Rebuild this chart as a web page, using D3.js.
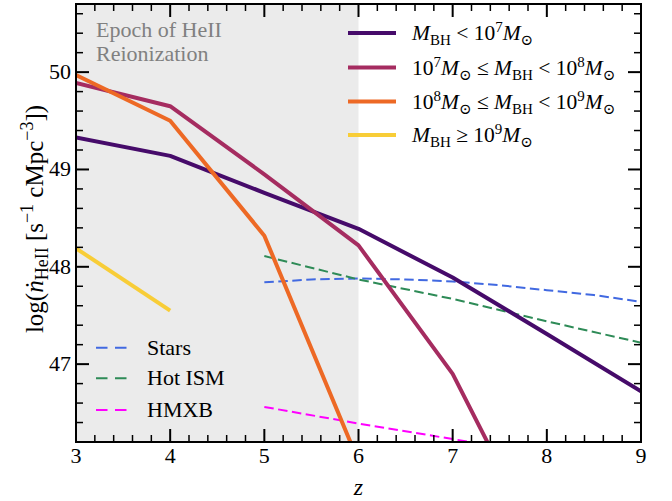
<!DOCTYPE html>
<html lang="en">
<head>
<meta charset="UTF-8">
<title>HeII ionizing photon rate</title>
<style>
    body { margin: 0; background: #fff; }
    svg text { font-family: "Liberation Serif", "DejaVu Serif", serif; }
</style>
</head>
<body>
<div id="chart"></div>
<script src="https://cdn.jsdelivr.net/npm/d3@7"></script>
<script>

    // redshift grid for the BH mass bins
    var zBins = [3, 4, 5, 6, 7, 8];
    var bhLow = [49.33, 49.14, 48.76, 48.39, 47.89, 47.31];     // M_BH < 1e7
    var bhMid = [49.89, 49.65, 48.95, 48.22, 46.90, 45.0];      // 1e7 - 1e8
    var bhHigh = [49.97, 49.50, 48.32, 46.0];                   // 1e8 - 1e9
    var bhTop = [48.19, 47.55];                                 // >= 1e9
    var bhLowTail = {z: 9, v: 46.72};

    // other sources
    var zStars = [5, 5.5, 6, 6.5, 7, 7.5, 8, 8.5, 9];
    var stars = [47.84, 47.87, 47.88, 47.87, 47.85, 47.81, 47.76, 47.71, 47.64];
    var zIsm = [5, 6, 7, 8, 9];
    var hotIsm = [48.11, 47.87, 47.67, 47.44, 47.22];
    var hmxb = [46.56, 46.39, 46.23, 46.07, 45.90];

    var xTicks = [3, 4, 5, 6, 7, 8, 9];
    var yTicks = [47, 48, 49, 50];

    var W = 672, H = 501;
    var pL = 76, pR = 641, pT = 4, pB = 442;

    var x = d3.scaleLinear().domain([3, 9]).range([pL, pR]);
    var y = d3.scaleLinear().domain([46.2, 50.7]).range([pB, pT]);

    var svg = d3.select("#chart").append("svg")
        .attr("width", W)
        .attr("height", H);

    svg.append("defs").append("clipPath").attr("id", "clip")
        .append("rect")
        .attr("x", pL).attr("y", pT)
        .attr("width", pR - pL).attr("height", pB - pT);

    // epoch of HeII reionization shading
    svg.append("rect")
        .attr("x", x(3)).attr("y", pT)
        .attr("width", x(6) - x(3)).attr("height", pB - pT)
        .attr("fill", "#ebebeb");

    svg.append("text").attr("x", 96).attr("y", 37)
        .attr("font-size", 22).attr("fill", "#808080").text("Epoch of HeII");
    svg.append("text").attr("x", 96).attr("y", 61)
        .attr("font-size", 22).attr("fill", "#808080").text("Reionization");

    var line = d3.line().x(function (d) { return x(d[0]); }).y(function (d) { return y(d[1]); });
    var plot = svg.append("g").attr("clip-path", "url(#clip)");

    function pairs(zs, vs) {
        return vs.map(function (v, i) { return [zs[i], v]; });
    }

    var dashed = [
        {name: "Stars", color: "#4169e1", pts: pairs(zStars, stars)},
        {name: "Hot ISM", color: "#2e8b57", pts: pairs(zIsm, hotIsm)},
        {name: "HMXB", color: "#ff00ff", pts: pairs(zIsm, hmxb)}
    ];

    var solid = [
        {color: "#460b6a", pts: pairs(zBins, bhLow).concat([[bhLowTail.z, bhLowTail.v]])},
        {color: "#a52c60", pts: pairs(zBins, bhMid)},
        {color: "#ed6925", pts: pairs(zBins, bhHigh)},
        {color: "#f8cd37", pts: pairs(zBins, bhTop)}
    ];

    dashed.forEach(function (s) {
        plot.append("path").attr("d", line(s.pts))
            .attr("fill", "none").attr("stroke", s.color)
            .attr("stroke-width", 2).attr("stroke-dasharray", "9.5,4.5");
    });

    solid.forEach(function (s) {
        plot.append("path").attr("d", line(s.pts))
            .attr("fill", "none").attr("stroke", s.color)
            .attr("stroke-width", 4).attr("stroke-linejoin", "round");
    });

    // axes, ticks inward on all sides
    function minor(lo, hi, step) {
        var out = [];
        for (var v = lo; v <= hi + 1e-9; v += step) out.push(+v.toFixed(2));
        return out;
    }
    var xMinor = minor(3, 9, 0.2);
    var yMinor = minor(46.2, 50.6, 0.2);

    var ax = svg.append("g").attr("stroke", "#000");
    xMinor.forEach(function (v) {
        var major = xTicks.indexOf(Math.round(v * 100) / 100) >= 0;
        var len = major ? 13 : 7;
        ax.append("line").attr("x1", x(v)).attr("x2", x(v)).attr("y1", pB).attr("y2", pB - len)
            .attr("stroke-width", major ? 2 : 1.5);
        ax.append("line").attr("x1", x(v)).attr("x2", x(v)).attr("y1", pT).attr("y2", pT + len)
            .attr("stroke-width", major ? 2 : 1.5);
    });
    yMinor.forEach(function (v) {
        var major = yTicks.indexOf(Math.round(v * 100) / 100) >= 0;
        var len = major ? 13 : 7;
        ax.append("line").attr("y1", y(v)).attr("y2", y(v)).attr("x1", pL).attr("x2", pL + len)
            .attr("stroke-width", major ? 2 : 1.5);
        ax.append("line").attr("y1", y(v)).attr("y2", y(v)).attr("x1", pR).attr("x2", pR - len)
            .attr("stroke-width", major ? 2 : 1.5);
    });
    svg.append("rect")
        .attr("x", pL).attr("y", pT)
        .attr("width", pR - pL).attr("height", pB - pT)
        .attr("fill", "none").attr("stroke", "#000").attr("stroke-width", 2);

    xTicks.forEach(function (v) {
        svg.append("text").attr("x", x(v)).attr("y", 463)
            .attr("text-anchor", "middle").attr("font-size", 22).text(v);
    });
    yTicks.forEach(function (v) {
        svg.append("text").attr("x", pL - 5).attr("y", y(v) + 7)
            .attr("text-anchor", "end").attr("font-size", 22).text(v);
    });

    svg.append("text").attr("x", x(6)).attr("y", 495)
        .attr("text-anchor", "middle").attr("font-size", 24)
        .attr("font-style", "italic").text("z");

    var yl = svg.append("text")
        .attr("transform", "translate(43,219) rotate(-90)")
        .attr("text-anchor", "middle").attr("font-size", 25);
    yl.append("tspan").text("log(");
    yl.append("tspan").attr("font-style", "italic").text("n\u0307");
    yl.append("tspan").attr("font-size", 18).attr("dy", 5).text("HeII");
    yl.append("tspan").attr("dy", -5).text(" [s");
    yl.append("tspan").attr("font-size", 18).attr("dy", -10).text("\u22121");
    yl.append("tspan").attr("dy", 10).text(" cMpc");
    yl.append("tspan").attr("font-size", 18).attr("dy", -10).text("\u22123");
    yl.append("tspan").attr("dy", 10).text("])");

    // BH mass legend
    var legY = [33, 67.5, 101.5, 135];
    var legParts = [
        [["M", "i"], ["BH", "sub"], [" < 10", ""], ["7", "sup"], ["M", "i"], ["\u2299", "sub"]],
        [["10", ""], ["7", "sup"], ["M", "i"], ["\u2299", "sub"], [" \u2264 ", ""], ["M", "i"], ["BH", "sub"], [" < 10", ""], ["8", "sup"], ["M", "i"], ["\u2299", "sub"]],
        [["10", ""], ["8", "sup"], ["M", "i"], ["\u2299", "sub"], [" \u2264 ", ""], ["M", "i"], ["BH", "sub"], [" < 10", ""], ["9", "sup"], ["M", "i"], ["\u2299", "sub"]],
        [["M", "i"], ["BH", "sub"], [" \u2265 10", ""], ["9", "sup"], ["M", "i"], ["\u2299", "sub"]]
    ];
    legParts.forEach(function (parts, i) {
        svg.append("line").attr("x1", 348).attr("x2", 396).attr("y1", legY[i]).attr("y2", legY[i])
            .attr("stroke", solid[i].color).attr("stroke-width", 4);
        var t = svg.append("text").attr("x", 412).attr("y", legY[i] + 7).attr("font-size", 21.5);
        var shift = 0;
        parts.forEach(function (p) {
            var target = p[1] === "sub" ? 5 : p[1] === "sup" ? -8 : 0;
            var ts = t.append("tspan").attr("dy", target - shift).text(p[0]);
            shift = target;
            if (p[1] === "i") ts.attr("font-style", "italic");
            if (p[1] === "sub" || p[1] === "sup") ts.attr("font-size", 15);
        });
    });

    // source legend
    var leg2Y = [347.7, 378.3, 410];
    dashed.forEach(function (s, i) {
        svg.append("line").attr("x1", 96).attr("x2", 127).attr("y1", leg2Y[i]).attr("y2", leg2Y[i])
            .attr("stroke", s.color).attr("stroke-width", 2).attr("stroke-dasharray", "11.5,7.5");
        svg.append("text").attr("x", 147).attr("y", leg2Y[i] + 7)
            .attr("font-size", 22).text(s.name);
    });

</script>
</body>
</html>
